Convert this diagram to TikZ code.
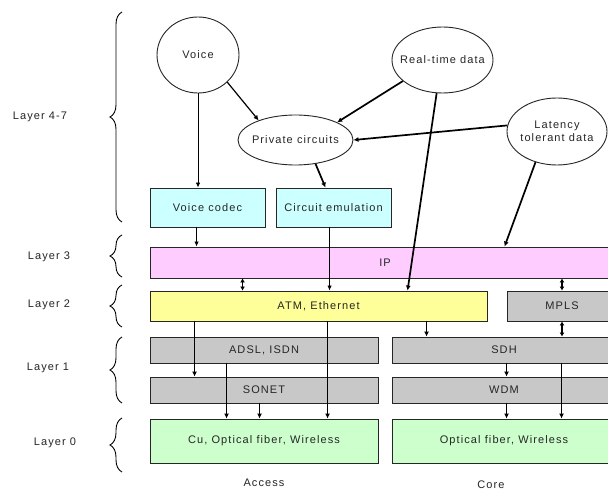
\documentclass[tikz,border=0pt]{standalone}
\usepackage{fontspec}
\setmainfont{Liberation Sans}[LetterSpace=10]
\usetikzlibrary{arrows.meta,decorations.pathreplacing,calc,shapes.geometric}
\definecolor{cyanc}{HTML}{CCFFFF}
\definecolor{pinkc}{HTML}{FFCCFF}
\definecolor{yellowc}{HTML}{FFFF99}
\definecolor{grayc}{HTML}{C8C8C8}
\definecolor{greenc}{HTML}{CCFFCC}
\begin{document}
\begin{tikzpicture}[x=1pt,y=-1pt,
  every node/.style={font=\fontsize{11}{13}\selectfont, text=black!85},
  bx/.style={draw=black!85, line width=0.9pt, rectangle, inner sep=0pt},
  ell/.style={draw=black!85, line width=0.9pt, ellipse, inner ysep=0pt, inner xsep=-8pt, align=center},
  thin/.style={draw=black, line width=0.8pt, -{Latex[length=5pt,width=4.5pt]}},
  thick/.style={draw=black, line width=1.7pt, -{Latex[length=5pt,width=5pt]}},
  med/.style={draw=black, line width=1.2pt, -{Latex[length=5pt,width=5pt]}},
  both/.style={draw=black, line width=1.6pt, {Latex[length=4pt,width=5pt]}-{Latex[length=4pt,width=5pt]}},
  brc/.style={draw=black, line width=0.9pt, decorate, decoration={brace, amplitude=12pt}},
  lbl/.style={font=\fontsize{11}{13}\selectfont}
]
\clip (0,0) rectangle (608,492);
\fill[white] (0,0) rectangle (608,492);

% layer braces and labels
\draw[brc] (122,222) -- (122,12);
\node[lbl] (l47) at (40,117) {Layer 4-7};
\draw[brc] (122,277) -- (122,235);
\node[lbl] (l3) at (49,257) {Layer 3};
\draw[brc] (122,327) -- (122,285);
\node[lbl] (l2) at (49,305) {Layer 2};
\draw[brc] (122,403) -- (122,337);
\node[lbl] (l1) at (48,368) {Layer 1};
\draw[brc] (122,472) -- (122,418);
\node[lbl] (l0) at (55,443) {Layer 0};

% ellipses
\node[ell, minimum width=82pt, minimum height=76pt] (voice) at (198,55) {Voice};
\node[ell, minimum width=101pt, minimum height=66pt] (rt) at (442.5,60) {Real-time data};
\node[ell, minimum width=100pt, minimum height=67pt] (lat) at (557,131.5) {Latency\\tolerant data};
\node[ell, minimum width=115pt, minimum height=50pt] (priv) at (295.5,140) {Private circuits};

% boxes
\node[bx, fill=cyanc, minimum width=115pt, minimum height=39pt] (codec) at (207.5,207.5) {Voice codec};
\node[bx, fill=cyanc, minimum width=115pt, minimum height=39pt] (circ) at (333.5,207.5) {Circuit emulation};
\node[bx, fill=pinkc, minimum width=470pt, minimum height=31pt] (ip) at (385,262.5) {IP};
\node[bx, fill=yellowc, minimum width=337pt, minimum height=30pt] (atm) at (318.5,306) {ATM, Ethernet};
\node[bx, fill=grayc, minimum width=110pt, minimum height=30pt] (mpls) at (562,306) {MPLS};
\node[bx, fill=grayc, minimum width=228pt, minimum height=26pt] (adsl) at (264,350) {ADSL, ISDN};
\node[bx, fill=grayc, minimum width=228pt, minimum height=26pt] (sonet) at (264,390) {SONET};
\node[bx, fill=grayc, minimum width=224pt, minimum height=26pt] (sdh) at (504,350) {SDH};
\node[bx, fill=grayc, minimum width=224pt, minimum height=26pt] (wdm) at (504,390) {WDM};
\node[bx, fill=greenc, minimum width=228pt, minimum height=44pt] (cu) at (264,441) {Cu, Optical fiber, Wireless};
\node[bx, fill=greenc, minimum width=224pt, minimum height=44pt] (opt) at (504,441) {Optical fiber, Wireless};

\node[lbl] (access) at (264,483) {Access};
\node[lbl] (core) at (491,485) {Core};

% connectors, upper part
\draw[thin] (voice.south) -- (voice.south |- codec.north);
\draw[med] (voice.south east) -- (priv.152);
\draw[thick] (rt.208) -- (priv.23);
\draw[thick] (lat.173) -- (priv.east);
\draw[thick] (priv.-50) -- ($(circ.north)+(-8,0)$);
\draw[thick] (rt.260) -- ($(atm.north west)+(258,0)$);
\draw[thick] (lat.235) -- ($(ip.north west)+(355,0)$);

% connectors, lower part
\draw[thin] ($(codec.south west)+(47,0)$) coordinate (c1) -- (c1 |- ip.north);
\draw[thin] ($(circ.south west)+(54,0)$) coordinate (c2) -- (c2 |- atm.north);
\draw[both] ($(ip.south west)+(93,0)$) coordinate (c3) -- (c3 |- atm.north);
\draw[both] (mpls.north |- ip.south) -- (mpls.north);
\draw[med] ($(atm.south west)+(277,0)$) coordinate (c4) -- (c4 |- sdh.north);
\draw[both] (mpls.south) -- (mpls.south |- sdh.north);
\draw[thick] ($(atm.south west)+(45,0)$) coordinate (c5) -- (c5 |- sonet.north);
\draw[thick] ($(atm.south west)+(178,0)$) coordinate (c6) -- (c6 |- cu.north);
\draw[thick] ($(adsl.south west)+(77,0)$) coordinate (c7) -- (c7 |- cu.north);
\draw[med] ($(sonet.south west)+(110,0)$) coordinate (c8) -- (c8 |- cu.north);
\draw[med] ($(sdh.south west)+(115,0)$) coordinate (c9) -- (c9 |- wdm.north);
\draw[med] ($(wdm.south west)+(115,0)$) coordinate (c10) -- (c10 |- opt.north);
\draw[thick] ($(sdh.south west)+(170,0)$) coordinate (c11) -- (c11 |- opt.north);
\end{tikzpicture}
\end{document}
